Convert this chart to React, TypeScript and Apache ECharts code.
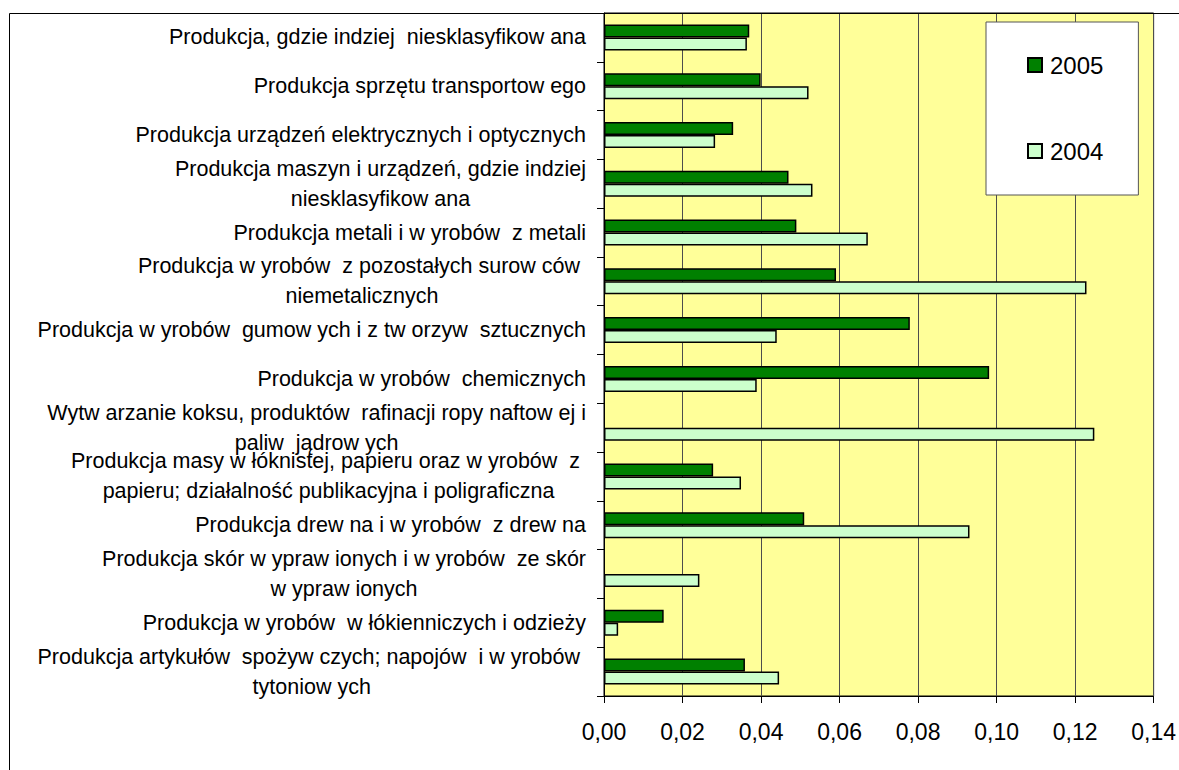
import { useEffect, useRef } from "react";
import * as echarts from "echarts";

// Branches of manufacturing, listed top to bottom
const categories: string[] = [
  "Produkcja, gdzie indziej  niesklasyfikow ana",
  "Produkcja sprzętu transportow ego",
  "Produkcja urządzeń elektrycznych i optycznych",
  "Produkcja maszyn i urządzeń, gdzie indziej\nniesklasyfikow ana",
  "Produkcja metali i w yrobów  z metali",
  "Produkcja w yrobów  z pozostałych surow ców \nniemetalicznych",
  "Produkcja w yrobów  gumow ych i z tw orzyw  sztucznych",
  "Produkcja w yrobów  chemicznych",
  "Wytw arzanie koksu, produktów  rafinacji ropy naftow ej i\npaliw  jądrow ych",
  "Produkcja masy w łóknistej, papieru oraz w yrobów  z \npapieru; działalność publikacyjna i poligraficzna",
  "Produkcja drew na i w yrobów  z drew na",
  "Produkcja skór w ypraw ionych i w yrobów  ze skór\nw ypraw ionych",
  "Produkcja w yrobów  w łókienniczych i odzieży",
  "Produkcja artykułów  spożyw czych; napojów  i w yrobów \ntytoniow ych",
];

const values2005: (number | null)[] = [
  0.037, 0.0399, 0.0329, 0.047, 0.049, 0.0591, 0.0779, 0.0981, null, 0.0278, 0.051, null, 0.0152, 0.0359,
];

const values2004: number[] = [
  0.0364, 0.0521, 0.0283, 0.0531, 0.0672, 0.1229, 0.044, 0.0389, 0.1249, 0.0349, 0.0931, 0.0243, 0.0036, 0.0446,
];

const seriesNames = ["2005", "2004"];

const axisMin = 0;
const axisMax = 0.14;
const axisStep = 0.02;

const FONT = "'Liberation Sans', Arial, sans-serif";

export default function App() {
  const ref = useRef<HTMLDivElement>(null);

  useEffect(() => {
    if (!ref.current) return;
    const chart = echarts.init(ref.current, undefined, { renderer: "svg" });

    const barStyle = (color: string) => ({
      color,
      borderColor: "#000",
      borderWidth: 1.5,
    });

    chart.setOption({
      animation: false,
      backgroundColor: "#fff",
      textStyle: { fontFamily: FONT },
      graphic: [
        {
          type: "rect",
          shape: { x: 9.5, y: 13.5, width: 1400, height: 900 },
          style: { fill: "none", stroke: "#000", lineWidth: 1 },
          silent: true,
          z: 100,
        },
      ],
      grid: {
        left: 604,
        right: 21,
        top: 13,
        bottom: 74,
        show: true,
        backgroundColor: "#FFFF99",
        borderColor: "#000",
        borderWidth: 1,
      },
      legend: {
        data: seriesNames,
        orient: "vertical",
        left: 986,
        top: 22,
        padding: [31, 35, 32, 41],
        itemGap: 62,
        itemWidth: 14,
        itemHeight: 14,
        icon: "rect",
        backgroundColor: "#fff",
        borderColor: "#555",
        borderWidth: 1,
        textStyle: {
          fontFamily: FONT,
          fontSize: 24,
          lineHeight: 24,
          color: "#000",
          padding: [0, 0, 0, 3],
        },
      },
      xAxis: {
        type: "value",
        min: axisMin,
        max: axisMax,
        interval: axisStep,
        axisLine: { show: true, lineStyle: { color: "#000", width: 1 } },
        axisTick: { show: true, length: 7, lineStyle: { color: "#000" } },
        splitLine: { show: true, lineStyle: { color: "#4d4d4d", width: 1 } },
        axisLabel: {
          margin: 24,
          fontFamily: FONT,
          fontSize: 23,
          color: "#000",
          formatter: (v: number) => v.toFixed(2).replace(".", ","),
        },
      },
      yAxis: {
        type: "category",
        inverse: true,
        data: categories,
        axisLine: { show: true, lineStyle: { color: "#000", width: 1 } },
        axisTick: { show: true, length: 7, interval: 0, lineStyle: { color: "#000" } },
        axisLabel: {
          interval: 0,
          margin: 18,
          formatter: (v: string) =>
            v
              .split("\n")
              .map((line) => `{c|${line}}`)
              .join("\n"),
          rich: {
            c: {
              align: "center",
              fontFamily: FONT,
              fontSize: 21.5,
              lineHeight: 30,
              color: "#000",
            },
          },
        },
      },
      series: [
        {
          name: seriesNames[0],
          type: "bar",
          data: values2005,
          barWidth: 13,
          barGap: "0%",
          itemStyle: barStyle("#008000"),
        },
        {
          name: seriesNames[1],
          type: "bar",
          data: values2004,
          barWidth: 13,
          barGap: "0%",
          itemStyle: barStyle("#CCFFCC"),
        },
      ],
    });

    return () => chart.dispose();
  }, []);

  return (
    <div
      ref={ref}
      style={{ position: "fixed", left: 0, top: 0, width: 1179, height: 770, background: "#fff" }}
    />
  );
}
